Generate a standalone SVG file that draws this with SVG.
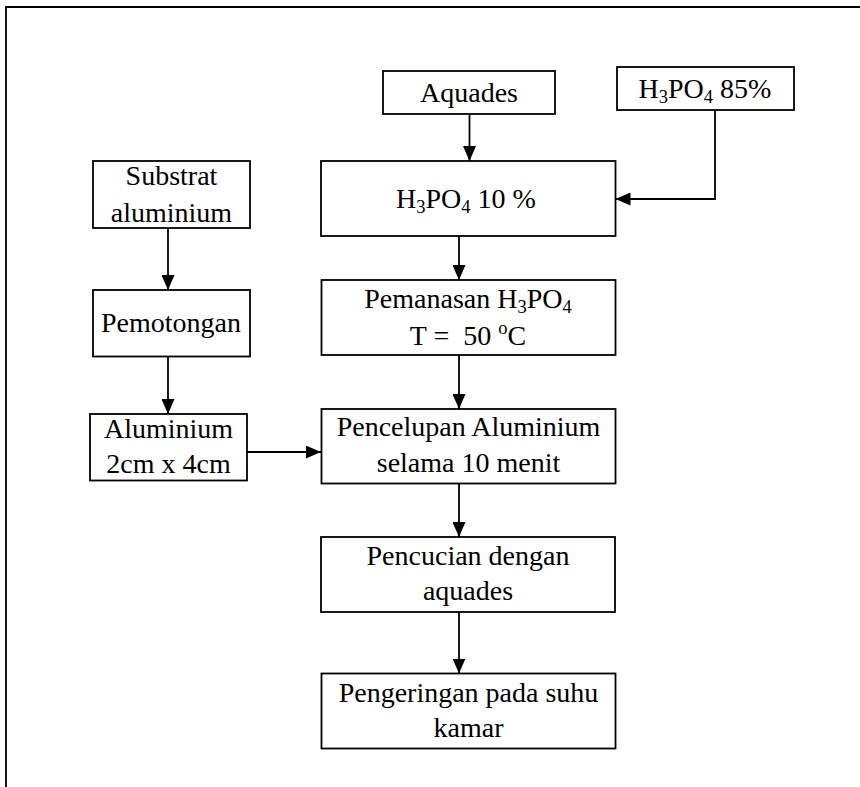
<svg xmlns="http://www.w3.org/2000/svg" width="860" height="787" viewBox="0 0 860 787">
<style>
.box{fill:#fff;stroke:#000;stroke-width:1.8}
.ln{fill:none;stroke:#000;stroke-width:1.8}
text{font-family:"Liberation Serif","Times New Roman",serif;font-size:28px;fill:#000;text-anchor:middle}
.s{font-size:18.5px}
</style>
<defs>
<marker id="ah" markerUnits="userSpaceOnUse" markerWidth="15" markerHeight="13" refX="15" refY="6.5" orient="auto">
<path d="M0,0 L15,6.5 L0,13 z" fill="#000"/>
</marker>
</defs>
<rect width="860" height="787" fill="#fff"/>
<path class="ln" d="M6,787 L6,7 L860,7"/>
<g id="connectors">
<line class="ln" x1="469.5" y1="114" x2="469.5" y2="161" marker-end="url(#ah)"/>
<polyline class="ln" points="715,110 715,199 615.5,199" marker-end="url(#ah)"/>
<line class="ln" x1="459" y1="236" x2="459" y2="280" marker-end="url(#ah)"/>
<line class="ln" x1="459" y1="355" x2="459" y2="409" marker-end="url(#ah)"/>
<line class="ln" x1="459" y1="483.5" x2="459" y2="537" marker-end="url(#ah)"/>
<line class="ln" x1="459" y1="612" x2="459" y2="673.5" marker-end="url(#ah)"/>
<line class="ln" x1="168" y1="228" x2="168" y2="290" marker-end="url(#ah)"/>
<line class="ln" x1="168" y1="356.5" x2="168" y2="414" marker-end="url(#ah)"/>
<line class="ln" x1="247" y1="452" x2="321" y2="452" marker-end="url(#ah)"/>
</g>
<g id="aquades">
<rect class="box" x="383" y="71" width="172" height="43"/>
<text x="469" y="101.5">Aquades</text>
</g>
<g id="h3po4-85">
<rect class="box" x="617" y="67" width="177" height="43"/>
<text x="705" y="98">H<tspan class="s" dy="5">3</tspan><tspan dy="-5">PO</tspan><tspan class="s" dy="5">4</tspan><tspan dy="-5"> 85%</tspan></text>
</g>
<g id="h3po4-10">
<rect class="box" x="321" y="161" width="294.5" height="75"/>
<text x="466" y="208">H<tspan class="s" dy="5">3</tspan><tspan dy="-5">PO</tspan><tspan class="s" dy="5">4</tspan><tspan dy="-5"> 10 %</tspan></text>
</g>
<g id="substrat">
<rect class="box" x="93" y="161" width="157" height="67"/>
<text x="171.5" y="185">Substrat</text>
<text x="171.5" y="221.5">aluminium</text>
</g>
<g id="pemotongan">
<rect class="box" x="93" y="290" width="157" height="66.5"/>
<text x="171" y="332">Pemotongan</text>
</g>
<g id="pemanasan">
<rect class="box" x="321.5" y="280" width="294" height="75"/>
<text x="468" y="308">Pemanasan H<tspan class="s" dy="5">3</tspan><tspan dy="-5">PO</tspan><tspan class="s" dy="5">4</tspan></text>
<text x="468" y="345">T =&#160; 50 <tspan class="s" dy="-11">o</tspan><tspan dy="11">C</tspan></text>
</g>
<g id="aluminium">
<rect class="box" x="90" y="414" width="157" height="66.5"/>
<text x="168.5" y="437.5">Aluminium</text>
<text x="168.5" y="473">2cm x 4cm</text>
</g>
<g id="pencelupan">
<rect class="box" x="321.5" y="409" width="294" height="74.5"/>
<text x="468.5" y="436">Pencelupan Aluminium</text>
<text x="468.5" y="472">selama 10 menit</text>
</g>
<g id="pencucian">
<rect class="box" x="321" y="537" width="294" height="75"/>
<text x="468" y="565">Pencucian dengan</text>
<text x="468" y="600">aquades</text>
</g>
<g id="pengeringan">
<rect class="box" x="321.5" y="673.5" width="294" height="75"/>
<text x="468.5" y="701.5">Pengeringan pada suhu</text>
<text x="468.5" y="737">kamar</text>
</g>
</svg>
